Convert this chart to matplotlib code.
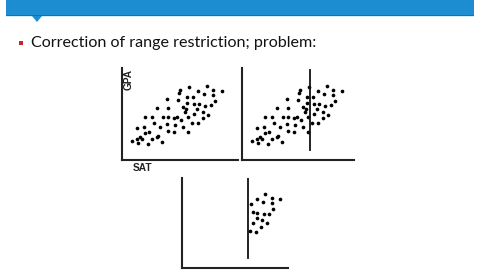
import matplotlib
matplotlib.use("Agg")
import matplotlib.pyplot as plt
from matplotlib.patches import Rectangle, Polygon

# ---- data (arbitrary SAT / GPA units) ----
sat_all = [57, 58, 45.3, 55.7, 63.7, 34.7, 45.7, 54.7, 23, 29.7, 40.7, 45.7, 52.3,
           14.7, 22.3, 32.3, 38, 44.7, 53, 23, 27, 45.7, 52.3, 18, 36.3,
           10.3, 15.3, 15.7, 20.3, 25.7, 30.3, 34.7, 39.7,
           67.3, 84.7, 76.3, 91.3, 99.7, 82, 91.3, 65.3, 70.7, 93, 65.3, 72, 77,
           83.3, 88.7, 60.7, 75.3, 80.7, 63, 72.3, 86.3, 59, 66.3, 80.7, 69.7,
           76.3, 61.3, 66.3]
gpa_all = [67, 69.5, 60.7, 60, 50.7, 51.7, 51.7, 42.7, 42.7, 43.3, 42.7, 43.3, 42.3,
           31.7, 33.3, 37.3, 32.7, 35.7, 35, 26.7, 27.7, 29, 28.3, 23.3, 24,
           19.3, 20.7, 17.3, 20.7, 16, 20.7, 22.7, 18.3,
           72.7, 74, 69.3, 70, 69, 65.7, 65, 63.3, 63.3, 59.3, 57.3, 56, 56,
           54, 55, 53.3, 50.7, 48.3, 47.7, 45.7, 45, 40, 43.3, 41.7, 37.3,
           36.7, 32.7, 28.3]
cut_score = 68

sat_sel = [83, 74.7, 89.7, 98, 69, 80.7, 89.7, 91.3, 70.7, 75.3, 82.3, 87.3,
           74.7, 79.7, 70.7, 84.7, 79, 68, 74]
gpa_sel = [73.7, 69, 69.7, 68.7, 63.7, 65.7, 64.7, 58.7, 56, 55.3, 53.7, 54,
           50.3, 48, 45.3, 44.7, 41.3, 37.3, 36.3]
cut_score_sel = 66

W, H = 480, 270
fig = plt.figure(figsize=(4.8, 2.7), dpi=100)
fig.patch.set_facecolor("white")

# background / decoration axes in pixel coordinates
bg = fig.add_axes([0, 0, 1, 1])
bg.set_xlim(0, W)
bg.set_ylim(H, 0)
bg.axis("off")
bg.add_patch(Rectangle((6, -1), 468, 17, facecolor="#1c8dd0", edgecolor="none"))
bg.add_patch(Rectangle((6, 14.5), 468, 1.5, facecolor="#1670ab", edgecolor="none"))
bg.add_patch(Rectangle((6, 16), 468, 1.2, facecolor="#cdeef6", edgecolor="none"))
bg.add_patch(Polygon([[32, 16], [42, 16], [37, 22]], closed=True,
                     facecolor="#1c8dd0", edgecolor="none"))
bg.text(30, -3.5, "Restriction of range correction", color="#a8d4ef", fontsize=14,
        family="Lato", va="baseline", ha="left", clip_on=True)
bg.add_patch(Rectangle((18.5, 40.5), 4, 4, facecolor="#c0282d", edgecolor="none"))
bg.text(31, 42.5, "Correction of range restriction; problem:", fontsize=11.6,
        family="Lato", va="center", ha="left", color="#111111")


def px_axes(left, top, width, height):
    ax = fig.add_axes([left / W, 1 - (top + height) / H, width / W, height / H])
    ax.set_xlim(0, width)
    ax.set_ylim(0, height)
    for s in ["top", "right"]:
        ax.spines[s].set_visible(False)
    for s in ["left", "bottom"]:
        ax.spines[s].set_linewidth(1.5)
        ax.spines[s].set_color("#222222")
    ax.set_xticks([])
    ax.set_yticks([])
    ax.patch.set_alpha(0)
    return ax


ax1 = px_axes(122, 68, 116, 92)
ax1.scatter(sat_all, gpa_all, s=7, color="black", linewidths=0)
bg.text(128.5, 79, "GPA", rotation=90, fontsize=7.3, family="Liberation Sans",
        ha="center", va="center", color="#222222", fontweight="bold")
bg.text(143, 168, "SAT", fontsize=7.3, family="Liberation Sans",
        ha="center", va="center", color="#222222", fontweight="bold")

ax2 = px_axes(242, 68, 112, 92)
ax2.scatter(sat_all, gpa_all, s=7, color="black", linewidths=0)
ax2.plot([cut_score, cut_score], [10, 90], color="#111111", lw=1.3)

ax3 = px_axes(182, 178, 106, 90)
ax3.scatter(sat_sel, gpa_sel, s=7, color="black", linewidths=0)
ax3.plot([cut_score_sel, cut_score_sel], [10, 90], color="#111111", lw=1.3)

fig.savefig("out.png", dpi=100)
